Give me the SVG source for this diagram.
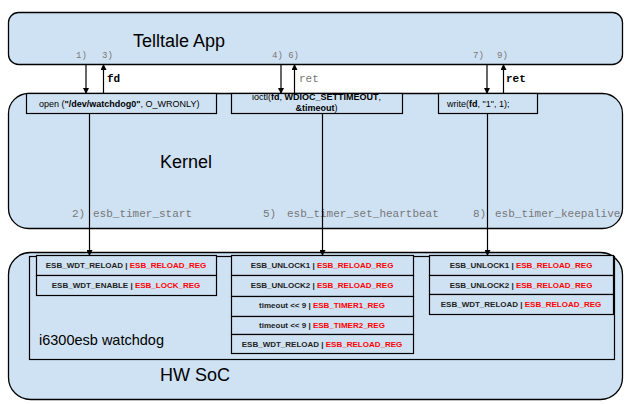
<svg xmlns="http://www.w3.org/2000/svg" width="626" height="404" viewBox="0 0 626 404">
<defs>
<style>
.box{fill:#cfe2f3;stroke:#000;stroke-width:1.3}
.cell{fill:#cfe2f3;stroke:#000;stroke-width:1.2}
.big{font-family:"Liberation Sans",Arial,sans-serif;font-size:18px;fill:#000}
.mid{font-family:"Liberation Sans",Arial,sans-serif;font-size:14.5px;fill:#000}
.call{font-family:"Liberation Sans",Arial,sans-serif;font-size:9px;fill:#000}
.reg{font-family:"Liberation Sans",Arial,sans-serif;font-size:8px;font-weight:bold;fill:#222;text-anchor:middle}
.red{fill:#ff0000}
.b{font-weight:bold}
.step{font-family:"Liberation Mono","Courier New",monospace;font-size:9px;fill:#777}
.fn{font-family:"Liberation Mono","Courier New",monospace;font-size:11px;fill:#777}
.rv{font-family:"Liberation Mono","Courier New",monospace;font-size:11px;fill:#000;font-weight:bold}
.rvg{font-family:"Liberation Mono","Courier New",monospace;font-size:11px;fill:#777}
.conn line{stroke:#000;stroke-width:1.2;fill:none}
</style>
<marker id="ah" markerWidth="6" markerHeight="6" refX="5" refY="3" orient="auto" markerUnits="userSpaceOnUse">
<path d="M0,0 L6,3 L0,6 Z" fill="#000"/>
</marker>
</defs>

<g id="app">
<rect class="box" x="8.5" y="12.5" width="614" height="52" rx="10" ry="10"/>
<text class="big" x="133" y="47">Telltale App</text>
</g>

<g id="kernel">
<rect class="box" x="8.5" y="93.5" width="614" height="135" rx="20" ry="20"/>
<text class="big" x="160" y="168">Kernel</text>
</g>

<g id="hwsoc">
<rect class="box" x="8.5" y="252.5" width="614" height="147" rx="22" ry="22"/>
<text class="big" x="160" y="381">HW SoC</text>
</g>

<g id="watchdog">
<rect x="29.5" y="256.5" width="585" height="103" fill="none" stroke="#000" stroke-width="1.2"/>
<text class="mid" x="39" y="345">i6300esb watchdog</text>
</g>

<g id="open-call">
<rect class="cell" x="26.5" y="93.5" width="190" height="20"/>
<text class="call" x="39" y="107">open (<tspan class="b">"/dev/watchdog0"</tspan>, O_WRONLY)</text>
</g>

<g id="ioctl-call">
<rect class="cell" x="231.5" y="93.5" width="171" height="20"/>
<text class="call" x="316.5" y="100" text-anchor="middle">ioctl(<tspan class="b">fd</tspan>, <tspan class="b">WDIOC_SETTIMEOUT</tspan>,</text>
<text class="call" x="316.5" y="111" text-anchor="middle"><tspan class="b">&amp;timeout</tspan>)</text>
</g>

<g id="write-call">
<rect class="cell" x="438.5" y="93.5" width="99" height="20"/>
<text class="call" x="447" y="107">write(<tspan class="b">fd</tspan>, "1", 1);</text>
</g>

<g id="regs-start">
<rect class="cell" x="36.5" y="255.5" width="180" height="20"/>
<rect class="cell" x="36.5" y="275.5" width="180" height="20"/>
<text class="reg" x="126" y="268">ESB_WDT_RELOAD | <tspan class="red">ESB_RELOAD_REG</tspan></text>
<text class="reg" x="126" y="288">ESB_WDT_ENABLE  | <tspan class="red">ESB_LOCK_REG</tspan></text>
</g>

<g id="regs-heartbeat">
<rect class="cell" x="231.5" y="255.5" width="182" height="20"/>
<rect class="cell" x="231.5" y="275.5" width="182" height="21"/>
<rect class="cell" x="231.5" y="296.5" width="182" height="20"/>
<rect class="cell" x="231.5" y="316.5" width="182" height="18"/>
<rect class="cell" x="231.5" y="334.5" width="182" height="19"/>
<text class="reg" x="322" y="268">ESB_UNLOCK1 | <tspan class="red">ESB_RELOAD_REG</tspan></text>
<text class="reg" x="322" y="288">ESB_UNLOCK2 | <tspan class="red">ESB_RELOAD_REG</tspan></text>
<text class="reg" x="322" y="308">timeout &lt;&lt; 9 | <tspan class="red">ESB_TIMER1_REG</tspan></text>
<text class="reg" x="322" y="328">timeout &lt;&lt; 9 | <tspan class="red">ESB_TIMER2_REG</tspan></text>
<text class="reg" x="322" y="347">ESB_WDT_RELOAD | <tspan class="red">ESB_RELOAD_REG</tspan></text>
</g>

<g id="regs-keepalive">
<rect class="cell" x="429.5" y="255.5" width="184" height="20"/>
<rect class="cell" x="429.5" y="275.5" width="184" height="19"/>
<rect class="cell" x="429.5" y="294.5" width="184" height="20"/>
<text class="reg" x="521" y="268">ESB_UNLOCK1 | <tspan class="red">ESB_RELOAD_REG</tspan></text>
<text class="reg" x="521" y="288">ESB_UNLOCK2 | <tspan class="red">ESB_RELOAD_REG</tspan></text>
<text class="reg" x="521" y="307">ESB_WDT_RELOAD | <tspan class="red">ESB_RELOAD_REG</tspan></text>
</g>

<g id="labels">
<text class="step" x="76" y="58">1)</text>
<text class="step" x="102" y="58">3)</text>
<text class="step" x="272" y="58">4) 6)</text>
<text class="step" x="473" y="58">7)</text>
<text class="step" x="497" y="58">9)</text>
<text class="rv" x="107" y="82">fd</text>
<text class="rvg" x="299" y="82">ret</text>
<text class="rv" x="506" y="82">ret</text>
<text class="fn" x="72" y="217">2)</text>
<text class="fn" x="93" y="217">esb_timer_start</text>
<text class="fn" x="263" y="217">5)</text>
<text class="fn" x="287" y="217">esb_timer_set_heartbeat</text>
<text class="fn" x="473" y="217">8)</text>
<text class="fn" x="495" y="217">esb_timer_keepalive</text>
</g>

<g class="conn" id="connectors">
<line x1="86" y1="65" x2="86" y2="93" marker-end="url(#ah)"/>
<line x1="103.5" y1="93" x2="103.5" y2="65" marker-end="url(#ah)"/>
<line x1="281" y1="65" x2="281" y2="93" marker-end="url(#ah)"/>
<line x1="294.5" y1="93" x2="294.5" y2="65" marker-end="url(#ah)"/>
<line x1="487" y1="65" x2="487" y2="93" marker-end="url(#ah)"/>
<line x1="503.5" y1="93" x2="503.5" y2="65" marker-end="url(#ah)"/>
<line x1="89.5" y1="114" x2="89.5" y2="255" marker-end="url(#ah)"/>
<line x1="322.5" y1="114" x2="322.5" y2="255" marker-end="url(#ah)"/>
<line x1="487.5" y1="114" x2="487.5" y2="255" marker-end="url(#ah)"/>
</g>
</svg>
